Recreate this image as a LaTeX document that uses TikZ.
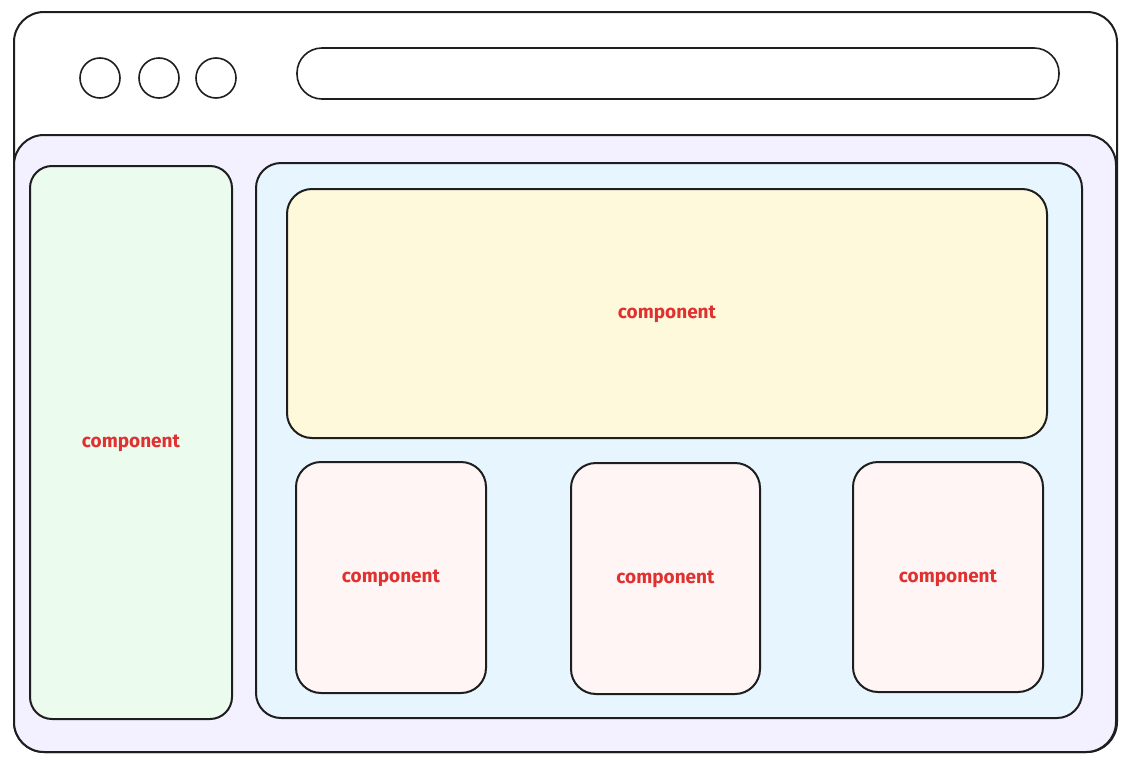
\documentclass[tikz,border=0pt]{standalone}
\usepackage{fontspec}
\setmainfont{Fira Sans}
\definecolor{ink}{HTML}{1E1E1E}
\definecolor{lav}{HTML}{F3F0FF}
\definecolor{grn}{HTML}{EBFBEE}
\definecolor{blu}{HTML}{E7F5FF}
\definecolor{yel}{HTML}{FFF9DB}
\definecolor{pnk}{HTML}{FFF5F5}
\definecolor{lbl}{HTML}{E03131}
\begin{document}
\begin{tikzpicture}[x=1pt,y=-1pt,
  frame/.style={draw=ink,line width=2pt,rectangle,inner sep=0pt,outer sep=0pt},
  panel/.style={frame,rounded corners=#1},
  comp/.style={frame,font=\fontsize{19}{22}\selectfont\bfseries,text=lbl,text depth=2pt},
  dot/.style={draw=ink,line width=1.6pt,circle,minimum size=40pt,inner sep=0pt,fill=white}]
\useasboundingbox (0,0) rectangle (1128,763);
\fill[white] (0,0) rectangle (1128,763);
% window
\node[panel=30pt,fill=white,minimum width=1103pt,minimum height=740pt] (win) at (565.5,382) {};
\node[dot] (c1) at (100,78) {};
\node[dot] (c2) at (159,78) {};
\node[dot] (c3) at (216,78) {};
\node[panel=25pt,draw=ink,line width=1.6pt,fill=white,minimum width=762pt,minimum height=51pt] (addr) at (678,73.5) {};
% content panel
\node[panel=30pt,fill=lav,minimum width=1102pt,minimum height=617pt] (body) at (565,443.5) {};
\node[comp,rounded corners=22pt,fill=grn,minimum width=202pt,minimum height=553pt] (side) at (131,442.5) {component};
\node[panel=25pt,fill=blu,minimum width=826pt,minimum height=555pt] (main) at (669,440.5) {};
\node[comp,rounded corners=25pt,fill=yel,minimum width=760pt,minimum height=249pt] (hero) at (667,313.5) {component};
\node[comp,rounded corners=25pt,fill=pnk,minimum width=190pt,minimum height=231pt] (p1) at (391,577.5) {component};
\node[comp,rounded corners=25pt,fill=pnk,minimum width=189pt,minimum height=231pt] (p2) at (665.5,578.5) {component};
\node[comp,rounded corners=25pt,fill=pnk,minimum width=190pt,minimum height=230pt] (p3) at (948,577) {component};
\end{tikzpicture}
\end{document}
